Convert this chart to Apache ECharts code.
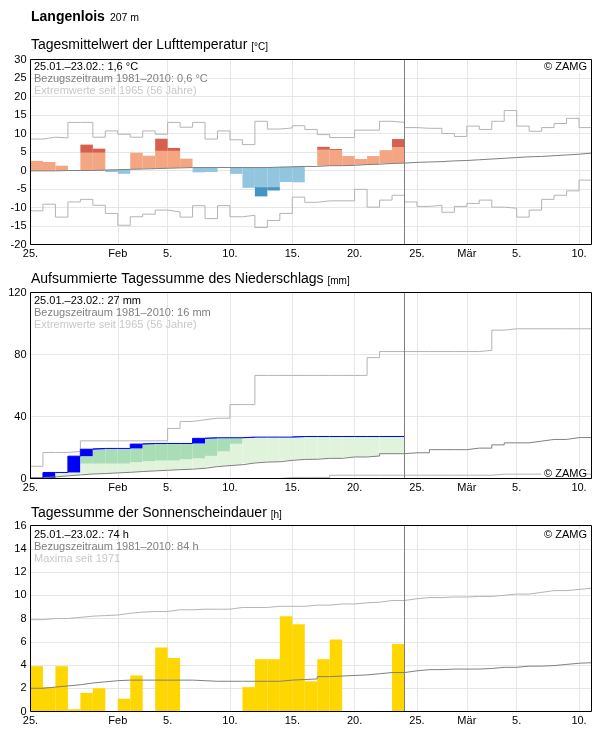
<!DOCTYPE html>
<html>
<head>
<meta charset="utf-8">
<script src="https://cdn.jsdelivr.net/npm/echarts@6/dist/echarts.min.js"></script>
<style>
    html, body { margin: 0; padding: 0; background: #fff; }
    #chart { width: 596px; height: 729px; }
</style>
</head>
<body>
<div id="chart"></div>
<script>
// x axis: days since 25.01. (0 = 25.01., 30 = 24.02., 45 = 11.03.)
const tickDays = [0, 7, 11, 16, 21, 26, 31, 35, 39, 44];
const tickLabels = ["25.", "Feb", "5.", "10.", "15.", "20.", "25.", "Mär", "5.", "10."];
const obsEnd = 30;

// Lufttemperatur, daily values [°C]
const tempMax = [8.5, 9.0, 8.8, 13.0, 13.0, 9.0, 10.7, 9.8, 9.0, 10.7, 9.8, 13.0, 11.7, 13.0, 8.5, 10.7, 8.3, 7.0, 13.3, 11.2,
    11.5, 12.1, 11.1, 9.7, 8.9, 8.9, 10.9, 10.9, 13.3, 13.0, 11.6, 11.4, 11.4, 10.0, 9.2, 12.0, 11.1, 13.3, 16.2, 12.0,
    10.6, 11.6, 12.7, 14.1, 11.6];
const tempMin = [-10.9, -9.1, -12.6, -8.5, -7.8, -9.4, -11.6, -14.8, -12.5, -11.8, -10.7, -11.2, -12.6, -9.5, -13.0, -9.5,
    -12.5, -12.1, -15.4, -13.5, -11.6, -7.2, -8.6, -8.2, -8.2, -8.2, -5.1, -9.9, -8.0, -6.7, -8.5, -9.7, -9.4, -11.3,
    -9.7, -8.9, -8.0, -9.9, -10.2, -12.6, -10.7, -7.8, -6.7, -5.5, -2.6];
const tempNormal = [-0.1, -0.1, 0.0, 0.0, 0.0, 0.1, 0.2, 0.3, 0.4, 0.5, 0.6, 0.7, 0.8, 0.8, 0.8, 0.8, 0.8, 0.8, 0.8, 0.9,
    1.0, 1.1, 1.1, 1.3, 1.3, 1.4, 1.6, 1.7, 1.9, 2.0, 2.2, 2.3, 2.4, 2.6, 2.7, 2.9, 3.1, 3.3, 3.5, 3.7,
    3.8, 4.0, 4.2, 4.4, 4.7];
const tempMean = [2.6, 2.3, 1.3, 0.0, 7.0, 5.9, -0.4, -0.9, 4.8, 4.0, 8.6, 6.1, 3.2, -0.5, -0.4, 0.8, -0.9, -4.6, -7.0, -5.4,
    -3.1, -3.2, 1.1, 6.4, 5.8, 3.9, 3.1, 3.9, 5.5, 8.5];
const tempDarkFrom = [null, null, null, null, 4.8, 4.8, null, null, null, null, 5.3, 5.3, null, null, null, null, null, -4.5, -4.5, -4.5,
    null, null, null, 5.6, 5.5, null, null, null, null, 6.35];

// Niederschlag, accumulated [mm]
const precipMax = [7.9, 16.8, 16.8, 17.4, 24.3, 24.3, 24.3, 24.3, 24.3, 24.3, 24.3, 32.3, 36.8, 37.9, 38.9, 38.9, 47.7, 47.7, 66.5, 66.5,
    66.5, 66.5, 66.5, 66.5, 66.5, 66.5, 66.5, 78.0, 81.9, 81.9, 81.9, 81.9, 81.9, 81.9, 81.9, 81.9, 82.7, 95.7, 96.6, 96.6,
    96.6, 96.6, 96.6, 96.6, 96.6];
const precipMin = [0, 0, 0, 0, 0, 0, 0, 0, 0, 0, 0, 0, 0, 0, 0, 0, 0, 0, 0, 0,
    0.6, 0.6, 0.6, 0.6, 2.1, 2.1, 2.1, 2.1, 2.1, 2.1, 2.1, 2.1, 2.1, 2.1, 2.1, 2.1, 2.1, 2.8, 2.8, 2.8,
    2.8, 2.8, 2.8, 2.8, 2.8];
const precipNormal = [0.6, 1.0, 1.7, 2.3, 2.9, 3.2, 3.6, 4.0, 4.5, 4.9, 5.3, 5.7, 6.0, 6.6, 7.7, 8.3, 8.9, 10.0, 10.6, 10.8,
    11.7, 12.3, 12.4, 13.0, 13.0, 13.9, 13.9, 14.5, 16.0, 16.0, 16.6, 16.6, 18.6, 18.6, 18.6, 19.6, 19.6, 21.7, 23.0, 23.0,
    24.1, 25.2, 25.2, 26.4, 26.4];
const precipSum = [0, 3.9, 3.9, 14.4, 18.9, 19.4, 19.4, 19.4, 22.2, 22.6, 22.6, 22.6, 22.6, 25.9, 26.3, 26.3, 26.3, 26.7, 26.7, 26.7,
    26.7, 27.1, 27.1, 27.1, 27.1, 27.1, 27.1, 27.1, 27.1, 27.1];
const precipUpper = [null, null, null, null, 9.6, 9.6, 9.6, 9.6, 10.6, 11.2, 11.6, 11.6, 12.4, 13.0, 14.6, 17.5, 22.4, null, null, null,
    null, null, null, null, null, null, null, null, null, null];

// Sonnenscheindauer [h]
const sunMax = [7.9, 8.0, 8.0, 8.1, 8.2, 8.25, 8.3, 8.45, 8.55, 8.6, 8.6, 8.75, 8.75, 8.8, 8.8, 8.8, 8.95, 8.95, 8.95, 9.05,
    9.05, 9.05, 9.15, 9.15, 9.25, 9.25, 9.35, 9.4, 9.55, 9.55, 9.7, 9.8, 9.8, 9.85, 9.85, 9.9, 9.9, 10.0, 10.1, 10.1,
    10.25, 10.4, 10.4, 10.5, 10.6];
const sunNormal = [2.0, 2.1, 2.2, 2.3, 2.45, 2.55, 2.65, 2.7, 2.7, 2.7, 2.7, 2.7, 2.7, 2.65, 2.6, 2.6, 2.6, 2.6, 2.6, 2.6,
    2.7, 2.75, 2.8, 3.0, 3.05, 3.1, 3.15, 3.25, 3.35, 3.35, 3.5, 3.6, 3.6, 3.65, 3.65, 3.65, 3.7, 3.8, 3.8, 3.9,
    3.9, 3.95, 4.05, 4.15, 4.2];
const sunHours = [3.9, 2.1, 3.9, 0.2, 1.6, 2.0, 0, 1.1, 3.1, 0, 5.5, 4.6, 0, 0, 0, 0, 0, 2.1, 4.5, 4.5,
    8.2, 7.5, 2.6, 4.5, 6.2, 0, 0, 0, 0, 5.8];

(function () {
    const FONT = "'Liberation Sans', Arial, Helvetica, sans-serif";
    const GRID_LINE = "#e6e6e6";
    const EXTREME = "#b4b4b4";
    const NORMAL = "#808080";

    const grids = [
        { left: 30.5, width: 561, top: 59.5, height: 185 },
        { left: 30.5, width: 561, top: 292.5, height: 186 },
        { left: 30.5, width: 561, top: 525.5, height: 186 }
    ];

    const chart = echarts.init(document.getElementById("chart"));

    function stepData(arr) {
        const pts = arr.map((v, i) => [i, v]);
        pts.push([arr.length, arr[arr.length - 1]]);
        return pts;
    }

    function rectItem(params, api) {
        const d = api.value(0);
        const p0 = api.coord([d, api.value(1)]);
        const p1 = api.coord([d + 1, api.value(2)]);
        return {
            type: "rect",
            shape: {
                x: p0[0],
                y: Math.min(p0[1], p1[1]),
                width: p1[0] - p0[0],
                height: Math.abs(p1[1] - p0[1])
            },
            style: api.style()
        };
    }

    function stepLine(idx, arr, color) {
        return {
            type: "line", xAxisIndex: idx, yAxisIndex: idx, step: "end",
            data: stepData(arr), symbol: "none", silent: true, z: 3,
            lineStyle: { color: color, width: 1 }
        };
    }

    function nowLine(idx) {
        return {
            type: "line", xAxisIndex: idx, yAxisIndex: idx, data: [], silent: true, z: 4,
            markLine: {
                silent: true, symbol: "none", animation: false,
                label: { show: false },
                lineStyle: { color: NORMAL, width: 1, type: "solid" },
                data: [{ xAxis: obsEnd }]
            }
        };
    }

    // temperature bars: from normal to daily mean, darker beyond threshold
    const tempBars = [];
    tempMean.forEach((v, i) => {
        const base = tempNormal[i];
        const thr = tempDarkFrom[i];
        const warm = v >= base;
        const light = warm ? "#f4a582" : "#92c5de";
        const dark = warm ? "#d6604d" : "#4393c3";
        tempBars.push({ value: [i, base, thr === null ? v : thr], itemStyle: { color: light } });
        if (thr !== null) tempBars.push({ value: [i, thr, v], itemStyle: { color: dark } });
    });

    // precipitation: green surplus bands, blue daily increments
    const precipBars = [];
    precipSum.forEach((v, i) => {
        const prev = i === 0 ? 0 : precipSum[i - 1];
        const base = precipNormal[i];
        const upper = precipUpper[i];
        if (prev > base) {
            const lightTop = upper === null ? prev : Math.min(upper, prev);
            precipBars.push({ value: [i, base, lightTop], itemStyle: { color: "#e0f3db" } });
            if (upper !== null && prev > upper) {
                precipBars.push({ value: [i, upper, prev], itemStyle: { color: "#a8ddb5" } });
            }
        }
        if (v > prev) precipBars.push({ value: [i, prev, v], itemStyle: { color: "#0000ff" } });
    });

    const sunBars = sunHours.map((v, i) => ({ value: [i, 0, v], itemStyle: { color: "#ffd700" } }));

    const xAxes = grids.map((g, idx) => ({
        type: "value", gridIndex: idx, min: 0, max: 45,
        axisLine: { show: false },
        axisTick: { show: false, customValues: tickDays },
        axisLabel: {
            customValues: tickDays,
            formatter: (v) => tickLabels[tickDays.indexOf(v)],
            color: "#000", fontFamily: FONT, fontSize: 11, margin: 4,
            showMinLabel: true, hideOverlap: false
        },
        splitLine: { show: true, lineStyle: { color: GRID_LINE, width: 1 } }
    }));

    const yCfg = [[-20, 30, 5], [0, 120, 40], [0, 16, 2]];
    const yAxes = yCfg.map((c, idx) => ({
        type: "value", gridIndex: idx, min: c[0], max: c[1], interval: c[2],
        axisLine: { show: false },
        axisTick: { show: false },
        axisLabel: {
            color: "#000", fontFamily: FONT, fontSize: 11, margin: 4,
            showMinLabel: true, showMaxLabel: true, hideOverlap: false
        },
        splitLine: { show: true, lineStyle: { color: GRID_LINE, width: 1 } }
    }));

    function heading(top, main, unit) {
        return {
            left: 31, top: top, padding: 0,
            text: "{t|" + main + " }{u|" + unit + "}",
            textStyle: {
                fontWeight: "normal",
                rich: {
                    t: { fontFamily: FONT, fontSize: 14, fontWeight: "normal", color: "#000", lineHeight: 16, verticalAlign: "bottom" },
                    u: { fontFamily: FONT, fontSize: 10, fontWeight: "normal", color: "#000", lineHeight: 16, verticalAlign: "bottom" }
                }
            }
        };
    }

    function note(top, text, color) {
        return {
            left: 34, top: top, padding: 0, text: text,
            textStyle: { fontFamily: FONT, fontSize: 11, fontWeight: "normal", color: color, lineHeight: 12 }
        };
    }

    function zamg(top) {
        return {
            right: 9, top: top, padding: [0, 0, 0, 3], text: "© ZAMG", backgroundColor: "#fff",
            textStyle: { fontFamily: FONT, fontSize: 11, fontWeight: "normal", color: "#000", lineHeight: 12 }
        };
    }

    const titles = [
        {
            left: 31, top: 6, padding: 0,
            text: "{b|Langenlois} {s|207 m}",
            textStyle: {
                fontWeight: "normal",
                rich: {
                    b: { fontFamily: FONT, fontSize: 14, fontWeight: "bold", color: "#000", lineHeight: 16, verticalAlign: "bottom" },
                    s: { fontFamily: FONT, fontSize: 10.5, fontWeight: "normal", color: "#000", lineHeight: 16, verticalAlign: "bottom" }
                }
            }
        },
        heading(36.3, "Tagesmittelwert der Lufttemperatur", "[°C]"),
        note(61, "25.01.–23.02.: 1,6 °C", "#000"),
        note(73, "Bezugszeitraum 1981–2010: 0,6 °C", "#808080"),
        note(85, "Extremwerte seit 1965 (56 Jahre)", "#c8c8c8"),
        zamg(61),
        heading(270.3, "Aufsummierte Tagessumme des Niederschlags", "[mm]"),
        note(295, "25.01.–23.02.: 27 mm", "#000"),
        note(307, "Bezugszeitraum 1981–2010: 16 mm", "#808080"),
        note(319, "Extremwerte seit 1965 (56 Jahre)", "#c8c8c8"),
        zamg(468),
        heading(504.3, "Tagessumme der Sonnenscheindauer", "[h]"),
        note(529, "25.01.–23.02.: 74 h", "#000"),
        note(541, "Bezugszeitraum 1981–2010: 84 h", "#808080"),
        note(553, "Maxima seit 1971", "#c8c8c8"),
        zamg(529)
    ];

    const frames = grids.map((g) => ({
        type: "rect", z: 100, silent: true,
        shape: { x: g.left, y: g.top, width: g.width, height: g.height },
        style: { fill: null, stroke: "#000", lineWidth: 1 }
    }));

    chart.setOption({
        animation: false,
        backgroundColor: "#fff",
        textStyle: { fontFamily: FONT },
        title: titles,
        grid: grids.map((g) => Object.assign({ outerBoundsMode: "none", containLabel: false }, g)),
        xAxis: xAxes,
        yAxis: yAxes,
        graphic: frames,
        series: [
            { type: "custom", xAxisIndex: 0, yAxisIndex: 0, renderItem: rectItem, data: tempBars, silent: true, z: 2 },
            stepLine(0, tempMax, EXTREME),
            stepLine(0, tempMin, EXTREME),
            stepLine(0, tempNormal, NORMAL),
            nowLine(0),

            { type: "custom", xAxisIndex: 1, yAxisIndex: 1, renderItem: rectItem, data: precipBars, silent: true, z: 2 },
            stepLine(1, precipMax, EXTREME),
            stepLine(1, precipMin, EXTREME),
            stepLine(1, precipNormal, NORMAL),
            Object.assign(stepLine(1, precipSum, "#0000ff"), { z: 3.5 }),
            nowLine(1),

            { type: "custom", xAxisIndex: 2, yAxisIndex: 2, renderItem: rectItem, data: sunBars, silent: true, z: 2 },
            stepLine(2, sunMax, EXTREME),
            stepLine(2, sunNormal, NORMAL),
            nowLine(2)
        ]
    });

    window.addEventListener("resize", () => chart.resize());
}());
</script>
</body>
</html>
